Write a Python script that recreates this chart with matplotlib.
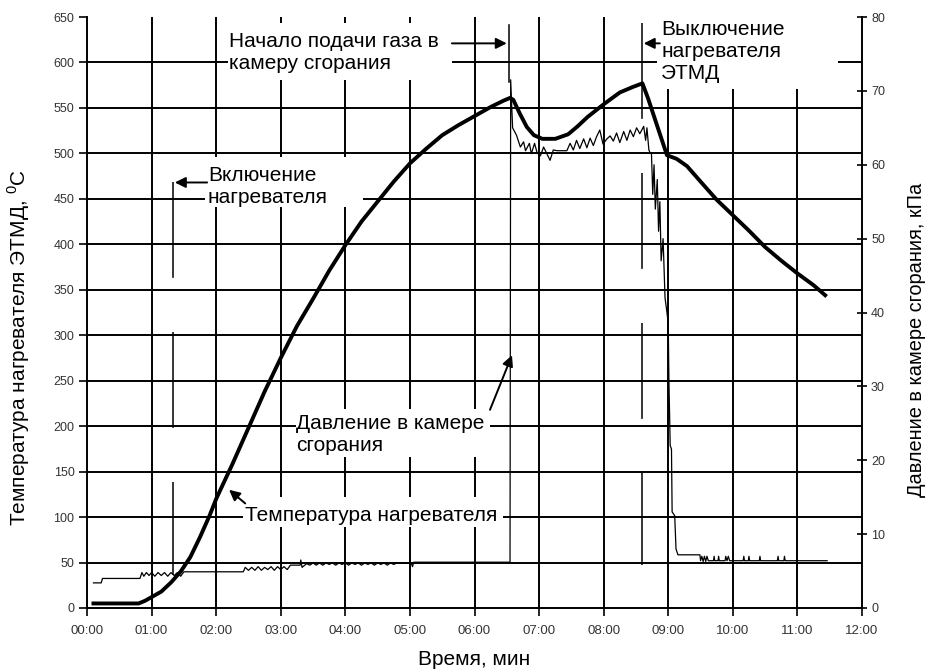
import matplotlib
matplotlib.use('Agg')
import matplotlib.pyplot as plt
from matplotlib.patches import Rectangle

plt.rcParams['font.family'] = ['Liberation Sans', 'DejaVu Sans']
plt.rcParams['mathtext.fontset'] = 'custom'
plt.rcParams['mathtext.rm'] = 'Liberation Sans'
plt.rcParams['lines.scale_dashes'] = False

# --- data (time in minutes) ---
temp_time = [0.10, 0.80, 0.90, 1.00, 1.15, 1.30, 1.45, 1.60, 1.75, 1.90, 2.00,
             2.25, 2.50, 2.75, 3.00, 3.25, 3.50, 3.75, 4.00, 4.25, 4.50, 4.75,
             5.00, 5.25, 5.50, 5.75, 6.00, 6.25, 6.45, 6.55, 6.60, 6.70, 6.81,
             6.92, 7.05, 7.25, 7.45, 7.60, 7.75, 8.00, 8.25, 8.45, 8.60, 8.69,
             8.83, 8.98, 9.13, 9.29, 9.50, 9.75, 10.00, 10.25, 10.50, 10.75,
             11.00, 11.25, 11.43]
temp_val = [5, 5, 8, 12, 18, 28, 40, 56, 78, 102, 120,
            158, 198, 238, 275, 310, 340, 371, 399, 425, 447, 469,
            489, 505, 520, 531, 541, 551, 558, 561, 559, 544, 529,
            520, 516, 516, 521, 530, 540, 554, 567, 573, 577, 560,
            530, 498, 494, 486, 469, 449, 432, 415, 397, 382,
            368, 355, 344]

# pressure before gas supply
pres_time_1 = [0.10, 0.22, 0.24, 0.82, 0.85, 0.88, 0.92, 0.96, 1.00, 1.05, 1.10,
               1.15, 1.20, 1.25, 1.30, 1.35, 1.40, 1.45, 1.50, 2.42, 2.45, 2.50,
               2.55, 2.60, 2.65, 2.70, 2.75, 2.80, 2.85, 2.90, 2.95, 3.00, 3.05,
               3.10, 3.15, 3.30, 3.31, 3.33, 3.40, 3.45, 3.50, 3.55, 3.60, 3.65,
               3.70, 3.75, 3.80, 3.85, 3.90, 3.95, 4.00, 4.05, 4.10, 4.15, 4.20,
               4.25, 4.30, 4.35, 4.40, 4.45, 4.50, 4.55, 4.60, 4.65, 4.70, 4.75,
               4.80, 5.02, 5.04, 5.06, 6.55]
pres_val_1 = [3.4, 3.4, 4.0, 4.0, 4.8, 4.3, 4.8, 4.4, 4.8, 4.3, 4.8,
              4.4, 4.8, 4.3, 4.8, 4.4, 4.8, 4.3, 4.9, 4.9, 5.5, 5.1,
              5.5, 5.1, 5.6, 5.1, 5.5, 5.2, 5.6, 5.1, 5.6, 5.2, 5.6,
              5.2, 5.8, 5.8, 6.5, 5.5, 6.0, 5.8, 6.1, 5.8, 6.1, 5.8,
              6.1, 5.9, 6.1, 5.8, 6.1, 5.9, 6.1, 5.8, 6.1, 5.9, 6.1,
              5.8, 6.1, 5.9, 6.1, 5.8, 6.1, 5.9, 6.1, 5.8, 6.1, 5.9,
              6.1, 6.1, 5.6, 6.2, 6.2]

# pressure during gas supply
pres_time_2 = [6.56, 6.59, 6.65, 6.71, 6.76, 6.79, 6.85, 6.88, 6.93, 6.97, 7.02,
               7.07, 7.12, 7.17, 7.22, 7.28, 7.43, 7.48, 7.53, 7.58, 7.63, 7.69,
               7.74, 7.79, 7.84, 7.89, 7.94, 7.99, 8.05, 8.10, 8.15, 8.20, 8.25,
               8.31, 8.36, 8.41, 8.46, 8.51, 8.56, 8.62, 8.65, 8.67, 8.70, 8.72]
pres_val_2 = [71.5, 65.0, 64.0, 62.4, 63.1, 61.9, 62.9, 61.5, 62.9, 61.6, 61.2,
              62.4, 61.5, 60.6, 62.0, 61.9, 61.9, 62.9, 62.0, 63.3, 62.2, 63.5,
              62.3, 63.6, 62.6, 63.8, 64.7, 62.8, 63.5, 63.9, 63.2, 64.3, 63.0,
              64.5, 63.3, 64.7, 63.8, 65.0, 64.2, 65.2, 63.3, 65.0, 62.0, 61.6]

# pressure after heater switch-off
pres_time_3 = [8.74, 8.76, 8.78, 8.80, 8.83, 8.85, 8.87, 8.89, 8.92, 8.95, 8.98,
               9.00, 9.01, 9.03, 9.05, 9.06, 9.10, 9.12, 9.15, 9.49, 9.50, 9.52,
               9.54, 9.56, 9.58, 9.60, 9.62, 9.70, 9.71, 9.72, 9.77, 9.78, 9.79,
               9.88, 9.89, 9.91, 9.93, 9.95, 10.16, 10.17, 10.18, 10.24, 10.25,
               10.26, 10.41, 10.42, 10.43, 10.69, 10.70, 10.71, 10.79, 10.80,
               10.81, 11.46]
pres_val_3 = [61.5, 56.0, 60.0, 54.0, 58.0, 51.0, 55.0, 47.0, 50.0, 42.0, 40.0,
              38.5, 31.0, 22.0, 21.5, 13.0, 12.5, 8.0, 7.2, 7.2, 6.4, 7.0,
              6.3, 7.0, 6.3, 7.0, 6.4, 6.4, 7.0, 6.4, 6.4, 7.0, 6.4,
              6.4, 7.0, 6.4, 7.0, 6.4, 6.4, 7.0, 6.4, 6.4, 7.0,
              6.4, 6.4, 7.0, 6.4, 6.4, 7.0, 6.4, 6.4, 7.0,
              6.4, 6.4]

time_ticks = list(range(0, 13))
time_labels = ['%02d:00' % m for m in time_ticks]
temp_ticks = list(range(0, 651, 50))
pres_ticks = list(range(0, 81, 10))

# event markers: heater on, gas supply start, heater off
event_times = [1.33, 6.53, 8.59]

pres_time = pres_time_1 + pres_time_2 + pres_time_3
pres_val = pres_val_1 + pres_val_2 + pres_val_3

fig = plt.figure(figsize=(9.25, 6.72), dpi=100)
ax = fig.add_axes([87 / 925, 1 - 608 / 672, 775 / 925, 591 / 672])
ax.set_xlim(0, 12)
ax.set_ylim(0, 650)

# grid (no line at top)
for m in time_ticks[1:-1]:
    ax.axvline(m, color='black', lw=1.4, zorder=1)
for v in temp_ticks[1:-1]:
    ax.axhline(v, color='black', lw=1.4, zorder=1)

# white backgrounds behind the labels
boxes = [(2.18, 581, 3.47, 62), (8.83, 571, 2.80, 80), (1.83, 441, 2.44, 55),
         (3.24, 166, 3.00, 53), (2.42, 89, 4.02, 33)]
for x0, y0, w, h in boxes:
    ax.add_patch(Rectangle((x0, y0), w, h, facecolor='white', edgecolor='none', zorder=2))

# event markers
ax.plot([event_times[0]] * 2, [468, 36], color='black', lw=1.1, dashes=(69, 39), zorder=3)
ax.plot([event_times[1]] * 2, [641, 578], color='black', lw=1.1, zorder=3)
ax.plot([event_times[2]] * 2, [643, 47], color='black', lw=1.1, dashes=(69, 39), zorder=3)

ax.plot(temp_time, temp_val, color='black', lw=2.8, zorder=4)

ax.set_xticks(time_ticks)
ax.set_xticklabels(time_labels)
ax.set_yticks(temp_ticks)
ax.tick_params(axis='both', direction='out', length=6, width=1.2, labelsize=9,
               labelcolor='#333333', pad=3)
ax.tick_params(axis='x', pad=6, labelsize=9.5)
for s in ['top', 'right']:
    ax.spines[s].set_visible(False)
for s in ['left', 'bottom']:
    ax.spines[s].set_linewidth(1.4)

ax.set_xlabel('Время, мин', fontsize=15)
ax.xaxis.set_label_coords(0.5, -0.071)
ax.set_ylabel(r'Температура нагревателя ЭТМД, $^{\rm 0}$C', fontsize=15)
ax.yaxis.set_label_coords(-0.071, 0.44)

ax2 = ax.twinx()
ax2.set_ylim(0, 80)
ax2.set_yticks(pres_ticks)
ax2.plot(pres_time, pres_val, color='black', lw=0.9, zorder=4)
ax2.tick_params(axis='y', direction='inout', length=7, width=1.2, labelsize=9,
                labelcolor='#333333', pad=3)
for s in ['top', 'left', 'bottom']:
    ax2.spines[s].set_visible(False)
ax2.spines['right'].set_linewidth(1.4)
ax2.set_ylabel('Давление в камере сгорания, кПа', fontsize=14.4)
ax2.yaxis.set_label_coords(1.058, 0.453)

# labels and arrows
fs = 15
ax.text(2.20, 611, 'Начало подачи газа в\nкамеру сгорания', fontsize=fs,
        va='center', zorder=5)
ax.text(8.89, 612, 'Выключение\nнагревателя\nЭТМД', fontsize=fs,
        va='center', zorder=5)
ax.text(1.87, 464, 'Включение\nнагревателя', fontsize=fs, va='center', zorder=5)
ax.text(3.24, 191, 'Давление в камере\nсгорания', fontsize=fs, va='center', zorder=5)
ax.text(2.45, 102, 'Температура нагревателя', fontsize=fs, va='center', zorder=5)

arrow = dict(arrowstyle='-|>', color='black', lw=1.4, mutation_scale=16,
             shrinkA=0, shrinkB=0)
ax.annotate('', xy=(6.50, 621), xytext=(5.65, 621), arrowprops=arrow, zorder=5)
ax.annotate('', xy=(8.62, 621), xytext=(8.87, 621), arrowprops=arrow, zorder=5)
ax.annotate('', xy=(1.36, 468), xytext=(1.86, 468), arrowprops=arrow, zorder=5)
ax.annotate('', xy=(6.58, 278), xytext=(6.24, 218), arrowprops=arrow, zorder=5)
ax.annotate('', xy=(2.20, 130), xytext=(2.45, 115), arrowprops=arrow, zorder=5)

fig.savefig('out.png', dpi=100)
